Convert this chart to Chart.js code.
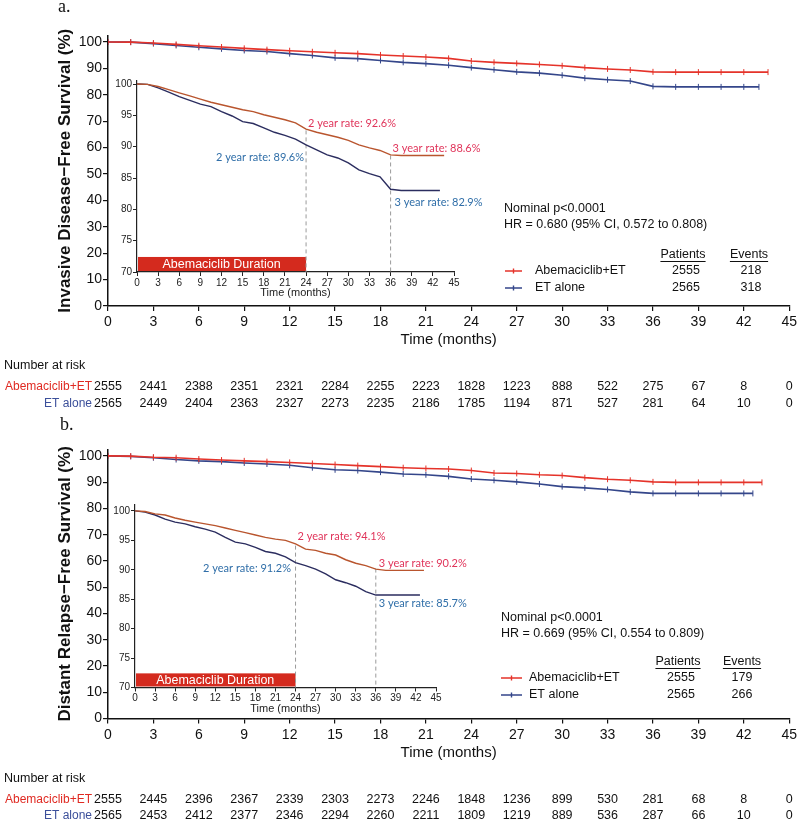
<!DOCTYPE html>
<html>
<head>
<meta charset="utf-8">
<script src="https://cdn.jsdelivr.net/npm/chart.js@4.4.1/dist/chart.umd.min.js"></script>
<style>
  body { margin: 0; background: #fff; }
  #wrap { position: relative; width: 800px; height: 821px; overflow: hidden; }
  .box { position: absolute; }
</style>
</head>
<body>
<div id="wrap">
  <div class="box" style="left:0;top:0;width:800px;height:412px"><canvas id="mainA"></canvas></div>
  <div class="box" style="left:100px;top:70px;width:400px;height:235px"><canvas id="insetA"></canvas></div>
  <div class="box" style="left:0;top:412px;width:800px;height:409px"><canvas id="mainB"></canvas></div>
  <div class="box" style="left:100px;top:495px;width:380px;height:225px"><canvas id="insetB"></canvas></div>
</div>
<script>
// time grid used for reading the curves (months)
const kmTimes = [0, 1.5, 3, 4.5, 6, 7.5, 9, 10.5, 12, 13.5, 15, 16.5, 18, 19.5, 21, 22.5, 24, 25.5, 27, 28.5, 30, 31.5, 33, 34.5, 36];

// a. invasive disease-free survival (%)
const idfsAbemaY = [100, 99.95, 99.6, 99.1, 98.6, 98.1, 97.6, 97.1, 96.7, 96.3, 95.9, 95.6, 95.1, 94.7, 94.3, 93.8, 92.8, 92.3, 91.9, 91.5, 91.0, 90.3, 89.8, 89.4, 88.7];
const idfsEtY = [100, 99.95, 99.4, 98.7, 98.0, 97.4, 96.8, 96.4, 95.6, 94.9, 94.0, 93.7, 93.0, 92.3, 91.8, 91.2, 90.3, 89.5, 88.7, 88.2, 87.4, 86.3, 85.7, 85.2, 83.2];
const idfsAbemaTailX = [37.5, 39, 40.5, 42, 43.6];
const idfsAbemaTailY = [88.6, 88.6, 88.6, 88.6, 88.6];
const idfsEtTailX = [37.5, 39, 40.5, 42, 43.0];
const idfsEtTailY = [83.0, 83.0, 83.0, 83.0, 83.0];

// b. distant relapse-free survival (%)
const drfsAbemaY = [100, 99.9, 99.5, 99.3, 98.8, 98.4, 98.1, 97.8, 97.5, 97.1, 96.7, 96.3, 95.9, 95.5, 95.2, 95.0, 94.4, 93.5, 93.3, 92.8, 92.5, 91.7, 91.1, 90.7, 90.1];
const drfsEtY = [100, 99.8, 99.3, 98.6, 98.1, 97.8, 97.3, 96.9, 96.4, 95.5, 94.7, 94.4, 93.8, 93.1, 92.8, 92.2, 91.2, 90.7, 90.1, 89.3, 88.3, 87.8, 87.2, 86.3, 85.7];
const drfsAbemaTailX = [37.5, 39, 40.5, 42, 43.2];
const drfsAbemaTailY = [89.9, 89.9, 89.9, 89.9, 89.9];
const drfsEtTailX = [37.5, 39, 40.5, 42, 42.6];
const drfsEtTailY = [85.7, 85.7, 85.7, 85.7, 85.7];

// landmark rates
const rateTimes = [24, 36];
const idfsAbemaRates = [92.6, 88.6];
const idfsEtRates = [89.6, 82.9];
const drfsAbemaRates = [94.1, 90.2];
const drfsEtRates = [91.2, 85.7];
const durationMonths = 24;

// axis ticks
const mainYTicks = [0, 10, 20, 30, 40, 50, 60, 70, 80, 90, 100];
const insetYTicks = [70, 75, 80, 85, 90, 95, 100];

// number at risk
const riskTimes = [0, 3, 6, 9, 12, 15, 18, 21, 24, 27, 30, 33, 36, 39, 42, 45];
const riskA_abema = [2555, 2441, 2388, 2351, 2321, 2284, 2255, 2223, 1828, 1223, 888, 522, 275, 67, 8, 0];
const riskA_et = [2565, 2449, 2404, 2363, 2327, 2273, 2235, 2186, 1785, 1194, 871, 527, 281, 64, 10, 0];
const riskB_abema = [2555, 2445, 2396, 2367, 2339, 2303, 2273, 2246, 1848, 1236, 899, 530, 281, 68, 8, 0];
const riskB_et = [2565, 2453, 2412, 2377, 2346, 2294, 2260, 2211, 1809, 1219, 889, 536, 287, 66, 10, 0];

// legend numbers
const groupNames = ['Abemaciclib+ET', 'ET alone'];
const patients = [2555, 2565];
const eventsA = [218, 318];
const eventsB = [179, 266];

const RED = '#e5332a';
const BLUE = '#34468a';
const INSET_RED = '#b9552e';
const INSET_BLUE = '#2b2d5f';
const LABEL_RED = '#e0345a';
const LABEL_BLUE = '#2f6ea8';
const INK = '#111';
const SANS = '"Liberation Sans", Arial, sans-serif';

Chart.defaults.font.family = SANS;
Chart.defaults.color = INK;

function toPoints(xs, ys, tailX, tailY) {
    const pts = xs.map((x, i) => ({ x: x, y: ys[i] }));
    tailX.forEach((x, i) => pts.push({ x: x, y: tailY[i] }));
    return pts;
}

function mainExtras(cfg) {
    return {
        id: 'mainExtras',
        afterDraw(chart) {
            const ctx = chart.ctx;
            const xs = chart.scales.x;
            const L = cfg.legend;
            ctx.save();

            // panel letter
            ctx.font = '18px "Liberation Serif", serif';
            ctx.fillStyle = INK;
            ctx.textAlign = 'left';
            ctx.textBaseline = 'alphabetic';
            ctx.fillText(cfg.letter, cfg.letterX, cfg.letterY);

            // stats + legend
            ctx.font = '12.5px ' + SANS;
            ctx.textBaseline = 'middle';
            ctx.fillText('Nominal p<0.0001', L.x, L.yP);
            ctx.fillText(cfg.hrText, L.x, L.yHR);

            ctx.textAlign = 'center';
            ['Patients', 'Events'].forEach((h, i) => {
                ctx.fillText(h, L.head[i], L.yHead);
                const w = ctx.measureText(h).width;
                ctx.fillRect(L.head[i] - w / 2, L.yHead + 6, w, 1);
            });

            [RED, BLUE].forEach((col, i) => {
                const y = L.rows[i];
                ctx.strokeStyle = col;
                ctx.lineWidth = 1.4;
                ctx.beginPath();
                ctx.moveTo(L.lineX[0], y);
                ctx.lineTo(L.lineX[1], y);
                const mid = (L.lineX[0] + L.lineX[1]) / 2;
                ctx.moveTo(mid, y - 2.5);
                ctx.lineTo(mid, y + 2.5);
                ctx.stroke();
                ctx.fillStyle = INK;
                ctx.textAlign = 'left';
                ctx.fillText(groupNames[i], L.textX, y);
                ctx.textAlign = 'center';
                ctx.fillText(String(patients[i]), L.nums[0], y);
                ctx.fillText(String(cfg.events[i]), L.nums[1], y);
            });

            // number at risk
            const axisY = chart.chartArea.bottom;
            ctx.textAlign = 'left';
            ctx.fillStyle = INK;
            ctx.fillText('Number at risk', 4, axisY + 60);
            [cfg.riskAbema, cfg.riskEt].forEach((row, r) => {
                const y = axisY + 81 + r * 16.5;
                ctx.font = '12px ' + SANS;
                ctx.textAlign = 'right';
                ctx.fillStyle = r === 0 ? '#e02a22' : '#3b4f9a';
                ctx.fillText(groupNames[r], 92, y);
                ctx.font = '12.5px ' + SANS;
                ctx.textAlign = 'center';
                ctx.fillStyle = INK;
                row.forEach((n, i) => ctx.fillText(String(n), xs.getPixelForValue(riskTimes[i]), y));
            });
            ctx.restore();
        }
    };
}

function makeMain(id, cfg) {
    return new Chart(document.getElementById(id), {
        type: 'line',
        data: {
            datasets: [{
                label: groupNames[0],
                data: cfg.abema,
                borderColor: RED,
                borderWidth: 1.6,
                pointStyle: 'line',
                pointRotation: 90,
                pointRadius: 3,
                pointBorderWidth: 1,
                pointBorderColor: RED,
                pointBackgroundColor: RED
            }, {
                label: groupNames[1],
                data: cfg.et,
                borderColor: BLUE,
                borderWidth: 1.6,
                pointStyle: 'line',
                pointRotation: 90,
                pointRadius: 3,
                pointBorderWidth: 1,
                pointBorderColor: BLUE,
                pointBackgroundColor: BLUE
            }]
        },
        options: {
            responsive: true,
            maintainAspectRatio: false,
            animation: false,
            layout: { padding: { left: 0, right: 10, top: cfg.padTop, bottom: 0 } },
            plugins: { legend: { display: false }, tooltip: { enabled: false } },
            scales: {
                x: {
                    type: 'linear', min: 0, max: 45,
                    afterFit: s => { s.height = cfg.xHeight; },
                    ticks: { stepSize: 3, autoSkip: false, maxRotation: 0, padding: 3, color: INK, font: { size: 14 } },
                    grid: { drawOnChartArea: false, drawTicks: true, tickLength: 5, color: INK, lineWidth: 1.2 },
                    border: { display: true, color: INK, width: 1.5 },
                    title: { display: true, text: 'Time (months)', color: INK, font: { size: 15 }, padding: { top: 0, bottom: cfg.xTitlePad } }
                },
                y: {
                    min: 0, max: 102.5,
                    afterFit: s => { s.width = 108; },
                    afterBuildTicks: s => { s.ticks = mainYTicks.map(v => ({ value: v })); },
                    ticks: { padding: 1, color: INK, font: { size: 14 } },
                    grid: { drawOnChartArea: false, drawTicks: true, tickLength: 5, color: INK, lineWidth: 1.2 },
                    border: { display: true, color: INK, width: 1.5 },
                    title: { display: true, text: cfg.yTitle, color: INK, font: { size: 17, weight: 'bold' }, padding: { top: 55, bottom: 0 } }
                }
            }
        },
        plugins: [mainExtras(cfg)]
    });
}

function insetExtras(cfg) {
    return {
        id: 'insetExtras',
        beforeDatasetsDraw(chart) {
            const ctx = chart.ctx;
            const xs = chart.scales.x, ys = chart.scales.y;
            ctx.save();
            // treatment duration bar
            const x0 = xs.getPixelForValue(0), x1 = xs.getPixelForValue(durationMonths);
            const yTop = ys.getPixelForValue(72.4), yBot = ys.getPixelForValue(70);
            ctx.fillStyle = '#d42a1e';
            ctx.fillRect(x0 + 1, yTop, x1 - x0 - 1, yBot - yTop - 1);
            ctx.fillStyle = '#fff';
            ctx.font = '12.5px ' + SANS;
            ctx.textAlign = 'center';
            ctx.textBaseline = 'middle';
            ctx.fillText('Abemaciclib Duration', (x0 + x1) / 2, (yTop + yBot) / 2);

            // landmark dashed lines
            ctx.strokeStyle = '#9a9a9a';
            ctx.lineWidth = 1;
            ctx.setLineDash([4, 3]);
            rateTimes.forEach((t, i) => {
                const x = xs.getPixelForValue(t);
                ctx.beginPath();
                ctx.moveTo(x, ys.getPixelForValue(cfg.abemaRates[i]));
                ctx.lineTo(x, ys.getPixelForValue(70));
                ctx.stroke();
            });
            ctx.restore();
        },
        afterDatasetsDraw(chart) {
            const ctx = chart.ctx;
            const xs = chart.scales.x, ys = chart.scales.y;
            ctx.save();
            ctx.font = '11px Lato, "Open Sans", sans-serif';
            ctx.textBaseline = 'middle';
            const put = (rates, offs, col) => {
                rates.forEach((v, i) => {
                    const o = offs[i];
                    ctx.fillStyle = col;
                    ctx.textAlign = o.align;
                    const txt = (rateTimes[i] / 12) + ' year rate: ' + v.toFixed(1) + '%';
                    ctx.fillText(txt, xs.getPixelForValue(rateTimes[i]) + o.dx, ys.getPixelForValue(v) + o.dy);
                });
            };
            put(cfg.abemaRates, cfg.abemaOffs, LABEL_RED);
            put(cfg.etRates, cfg.etOffs, LABEL_BLUE);
            ctx.restore();
        }
    };
}

function makeInset(id, cfg) {
    return new Chart(document.getElementById(id), {
        type: 'line',
        data: {
            datasets: [
                { data: cfg.abema, borderColor: INSET_RED, borderWidth: 1.4, pointRadius: 0 },
                { data: cfg.et, borderColor: INSET_BLUE, borderWidth: 1.4, pointRadius: 0 }
            ]
        },
        options: {
            responsive: true,
            maintainAspectRatio: false,
            animation: false,
            layout: { padding: { left: 0, right: cfg.padRight, top: cfg.padTop, bottom: 0 } },
            plugins: { legend: { display: false }, tooltip: { enabled: false } },
            scales: {
                x: {
                    type: 'linear', min: 0, max: 45,
                    afterFit: s => { s.height = cfg.xHeight; },
                    ticks: { stepSize: 3, autoSkip: false, maxRotation: 0, padding: 1, color: '#222', font: { size: 10 } },
                    grid: { drawOnChartArea: false, drawTicks: true, tickLength: 4, color: '#222', lineWidth: 1 },
                    border: { display: true, color: '#222', width: 1.2 },
                    title: { display: true, text: 'Time (months)', color: '#222', font: { size: 11 }, padding: { top: 0, bottom: cfg.titlePad } }
                },
                y: {
                    min: 70, max: cfg.yMax,
                    afterFit: s => { s.width = cfg.yWidth; },
                    afterBuildTicks: s => { s.ticks = insetYTicks.map(v => ({ value: v })); },
                    ticks: { padding: 1, color: '#222', font: { size: 10 } },
                    grid: { drawOnChartArea: false, drawTicks: true, tickLength: 4, color: '#222', lineWidth: 1 },
                    border: { display: true, color: '#222', width: 1.2 }
                }
            }
        },
        plugins: [insetExtras(cfg)]
    });
}

const idfsAbema = toPoints(kmTimes, idfsAbemaY, idfsAbemaTailX, idfsAbemaTailY);
const idfsEt = toPoints(kmTimes, idfsEtY, idfsEtTailX, idfsEtTailY);
const drfsAbema = toPoints(kmTimes, drfsAbemaY, drfsAbemaTailX, drfsAbemaTailY);
const drfsEt = toPoints(kmTimes, drfsEtY, drfsEtTailX, drfsEtTailY);

makeMain('mainA', {
    abema: idfsAbema, et: idfsEt,
    padTop: 35.4, xHeight: 106, xTitlePad: 63,
    yTitle: 'Invasive Disease\u2212Free Survival (%)',
    letter: 'a.', letterX: 58, letterY: 12,
    hrText: 'HR = 0.680 (95% CI, 0.572 to 0.808)',
    events: eventsA,
    riskAbema: riskA_abema, riskEt: riskA_et,
    legend: { x: 504, yP: 209, yHR: 225, head: [683, 749], nums: [686, 751], yHead: 255, rows: [271, 288], lineX: [505, 522], textX: 535 }
});

makeInset('insetA', {
    abema: idfsAbema, et: idfsEt,
    abemaRates: idfsAbemaRates, etRates: idfsEtRates,
    yMax: 100.5, yWidth: 37, xHeight: 33, padTop: 10.9, padRight: 46, titlePad: 5.4,
    abemaOffs: [{ dx: 2, dy: -7, align: 'left' }, { dx: 2, dy: -7, align: 'left' }],
    etOffs: [{ dx: -2, dy: 8, align: 'right' }, { dx: 4, dy: 11, align: 'left' }]
});

makeMain('mainB', {
    abema: drfsAbema, et: drfsEt,
    padTop: 37.3, xHeight: 102.5, xTitlePad: 59.5,
    yTitle: 'Distant Relapse\u2212Free Survival (%)',
    letter: 'b.', letterX: 60, letterY: 18,
    hrText: 'HR = 0.669 (95% CI, 0.554 to 0.809)',
    events: eventsB,
    riskAbema: riskB_abema, riskEt: riskB_et,
    legend: { x: 501, yP: 206, yHR: 222, head: [678, 742], nums: [681, 742], yHead: 250, rows: [266, 283], lineX: [501, 522], textX: 529 }
});

makeInset('insetB', {
    abema: drfsAbema, et: drfsEt,
    abemaRates: drfsAbemaRates, etRates: drfsEtRates,
    yMax: 101, yWidth: 35, xHeight: 32.5, padTop: 10, padRight: 44, titlePad: 4.4,
    abemaOffs: [{ dx: 2, dy: -9.5, align: 'left' }, { dx: 3, dy: -5, align: 'left' }],
    etOffs: [{ dx: -4.5, dy: 5.5, align: 'right' }, { dx: 3, dy: 8, align: 'left' }]
});
</script>
</body>
</html>
